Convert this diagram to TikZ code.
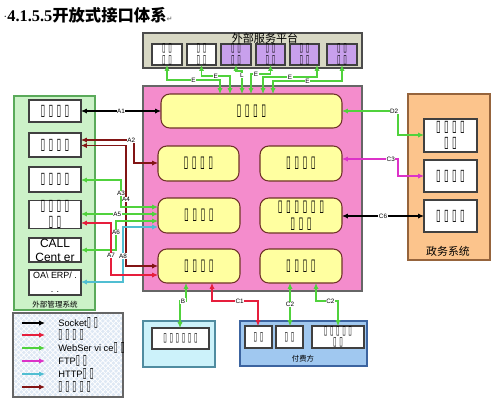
\documentclass[tikz,border=0pt]{standalone}
\usepackage{fontspec}
\usepackage{graphicx}
\setmainfont{Liberation Sans}
\newfontfamily\cjk{Noto Sans CJK SC}
\newfontfamily\tofu{DejaVu Sans}[WordSpace=2.2]
\newfontfamily\dvs{DejaVu Sans}
\newfontfamily\serifb{Liberation Serif}
\usetikzlibrary{arrows.meta,patterns}
\newcommand{\tf}{\scalebox{0.8}[1.5]{▯}}
\definecolor{pinkbg}{RGB}{244,140,204}
\definecolor{yel}{RGB}{255,255,160}
\definecolor{yelbd}{RGB}{110,50,40}
\definecolor{grnbg}{RGB}{204,242,200}
\definecolor{grnbd}{RGB}{90,170,90}
\definecolor{orgbg}{RGB}{252,196,140}
\definecolor{orgbd}{RGB}{150,100,60}
\definecolor{platbg}{RGB}{216,216,196}
\definecolor{purp}{RGB}{200,160,236}
\definecolor{cybg}{RGB}{204,242,250}
\definecolor{cybd}{RGB}{80,140,160}
\definecolor{blbg}{RGB}{160,200,240}
\definecolor{blbd}{RGB}{60,100,160}
\definecolor{lgbg}{RGB}{222,232,244}
\definecolor{cred}{RGB}{230,30,60}
\definecolor{cgrn}{RGB}{80,210,60}
\definecolor{cmag}{RGB}{220,50,200}
\definecolor{ccyn}{RGB}{80,190,210}
\definecolor{cdrd}{RGB}{130,20,20}
\newcommand{\bx}[7]{\node[#6, minimum width={(#4-#2)*0.02cm}, minimum height={(#5-#3)*0.02cm}] (#1) at ({(#2+#4)/2},{(#3+#5)/2}) {#7};}
\tikzset{
  base/.style={inner sep=0pt, outer sep=0pt, line width=0.6pt},
  wb/.style={base, draw=black!75, fill=white, align=center, font=\tofu\fontsize{6}{9.5}\selectfont},
  wbs/.style={wb, font=\tofu\fontsize{4.6}{6.5}\selectfont},
  pb/.style={wbs, fill=purp},
  yb/.style={base, draw=yelbd, fill=yel, rounded corners=5pt, align=center, font=\tofu\fontsize{6.2}{9.5}\selectfont},
  con/.style={line width=0.6pt, {Latex[length=3.4pt,width=3pt]}-{Latex[length=3.4pt,width=3pt]}},
  legar/.style={line width=0.6pt, -{Latex[length=3.4pt,width=3pt]}},
  lbl/.style={fill=white, inner sep=0.3pt, font=\fontsize{3.6}{4}\selectfont},
  legt/.style={anchor=west, inner sep=0pt, font=\fontsize{5.3}{6}\selectfont},
}
\begin{document}
\begin{tikzpicture}[x=0.02cm,y=-0.02cm]
\useasboundingbox (0,0) rectangle (500,400);
\fill[white] (0,0) rectangle (500,400);
% title
\node[anchor=west, inner sep=0pt] (title) at (3,15) {\serifb\bfseries\fontsize{9.3}{11}\selectfont \raisebox{1pt}{\fontsize{6}{6}\selectfont$\cdot$}4.1.5.5{\cjk\bfseries 开放式接口体系}{\dvs\fontsize{4}{4}\selectfont\color{black!50}↵}};
% platform
\bx{plat}{143}{33}{362}{68}{base, draw=black!70, fill=platbg}{}
\node[font=\cjk\fontsize{6.3}{7}\selectfont, inner sep=0pt] (platt) at (265,38) {外部服务平台};
\bx{p1}{152}{44}{182}{65}{wbs}{\tf\ \tf\\\tf\ \tf}
\bx{p2}{187}{44}{216}{65}{wbs}{\tf\ \tf\\\tf\ \tf}
\bx{p3}{221}{44}{251}{65}{pb}{\tf\ \tf\\\tf\ \tf}
\bx{p4}{256}{44}{285}{65}{pb}{\tf\ \tf\\\tf\ \tf}
\bx{p5}{290}{44}{319}{65}{pb}{\tf\ \tf\\\tf\ \tf}
\bx{p6}{327}{44}{357}{65}{pb}{\tf\ \tf\\\tf\ \tf}
% main pink
\bx{main}{143}{86}{362}{291}{base, draw=black!60, fill=pinkbg}{}
\bx{Yt}{161}{94}{342}{128}{yb}{\tf\ \tf\ \tf\ \tf}
\bx{Y2l}{158}{146}{239}{181}{yb}{\tf\ \tf\ \tf\ \tf}
\bx{Y2r}{260}{146}{342}{181}{yb}{\tf\ \tf\ \tf\ \tf}
\bx{Y3l}{158}{198}{240}{233}{yb}{\tf\ \tf\ \tf\ \tf}
\bx{Y3r}{260}{198}{342}{233}{yb}{\tf\ \tf\ \tf\ \tf\ \tf\ \tf\\\tf\ \tf\ \tf}
\bx{Y4l}{158}{249}{240}{283}{yb}{\tf\ \tf\ \tf\ \tf}
\bx{Y4r}{260}{249}{342}{283}{yb}{\tf\ \tf\ \tf\ \tf}
% left green
\bx{G}{14}{96}{95}{310}{base, draw=grnbd, fill=grnbg}{}
\bx{L1}{29}{100}{81}{122}{wb}{\tf\ \tf\ \tf\ \tf}
\bx{L2}{29}{133}{81}{157}{wb}{\tf\ \tf\ \tf\ \tf}
\bx{L3}{29}{167}{81}{192}{wb}{\tf\ \tf\ \tf\ \tf}
\bx{L4}{29}{202}{81}{227}{wb}{\tf\ \tf\ \tf\ \tf\\\tf\ \tf}
\bx{L5}{29}{238}{81}{262}{wb, font=\fontsize{6.8}{8}\selectfont}{CALL\\Cent er}
\bx{L6}{29}{270}{81}{295}{wb, font=\fontsize{5.1}{8}\selectfont}{OA\textbackslash{} ERP/ .\\. .}
\node[font=\cjk\fontsize{4.3}{5}\selectfont, inner sep=0pt] (Gt) at (55,304.5) {外部管理系统};
% legend
\bx{LG}{13}{313}{123}{397}{base, draw=black!60, fill=lgbg}{}
\fill[pattern=crosshatch, pattern color=white] (LG.north west) rectangle (LG.south east);
\draw[line width=0.6pt, draw=black!60] (LG.north west) rectangle (LG.south east);
\coordinate (la1) at (22,323); \coordinate (lb1) at (45,323);
\coordinate (la2) at (22,335); \coordinate (lb2) at (45,335);
\coordinate (la3) at (22,348); \coordinate (lb3) at (45,348);
\coordinate (la4) at (22,361); \coordinate (lb4) at (45,361);
\coordinate (la5) at (22,374); \coordinate (lb5) at (45,374);
\coordinate (la6) at (22,387); \coordinate (lb6) at (45,387);
\draw[legar, black] (la1) -- (lb1);
\draw[legar, cred] (la2) -- (lb2);
\draw[legar, cgrn] (la3) -- (lb3);
\draw[legar, cmag] (la4) -- (lb4);
\draw[legar, ccyn] (la5) -- (lb5);
\draw[legar, cdrd] (la6) -- (lb6);
\node[legt] (lt1) at (58,323) {Socket{\tofu\tf\ \tf}};
\node[legt] (lt2) at (58,335) {\tofu\tf\ \tf\ \tf\ \tf};
\node[legt] (lt3) at (58,348) {WebSer vi ce{\tofu\tf\ \tf}};
\node[legt] (lt4) at (58,361) {FTP{\tofu\tf\ \tf}};
\node[legt] (lt5) at (58,374) {HTTP{\tofu\tf\ \tf}};
\node[legt] (lt6) at (58,387) {\tofu\tf\ \tf\ \tf\ \tf\ \tf};
% right orange
\bx{O}{408}{94}{490}{260}{base, draw=orgbd, fill=orgbg}{}
\bx{R1}{424}{119}{477}{152}{wb}{\tf\ \tf\ \tf\ \tf\\\tf\ \tf}
\bx{R2}{424}{160}{477}{192}{wb}{\tf\ \tf\ \tf\ \tf}
\bx{R3}{424}{200}{477}{232}{wb}{\tf\ \tf\ \tf\ \tf}
\node[font=\cjk\fontsize{6.2}{7}\selectfont, inner sep=0pt] (Ot) at (448,251) {政务系统};
% bottom boxes
\bx{BC}{143}{321}{215}{367}{base, draw=cybd, fill=cybg}{}
\bx{BI}{152}{328}{209}{349}{wbs}{\tf\ \tf\ \tf\ \tf\ \tf\ \tf}
\bx{PB}{240}{321}{367}{366}{base, draw=blbd, fill=blbg}{}
\bx{P1}{245}{326}{272}{348}{wbs}{\tf\ \tf}
\bx{P2}{276}{326}{303}{348}{wbs}{\tf\ \tf}
\bx{P3}{312}{326}{364}{348}{wbs}{\tf\ \tf\ \tf\ \tf\ \tf\\\tf\ \tf}
\node[font=\cjk\fontsize{4.2}{5}\selectfont, inner sep=0pt] (PBt) at (303,359) {付费方};
% top connectors
\draw[con, cgrn] (p1.south) -- (p1.south |- 0,80) -- node[lbl, text=black]{E} (220,80) -- (Yt.north -| 220,0);
\draw[con, cgrn] (p2.south) -- (p2.south |- 0,76) -- node[lbl, text=black]{E} (230,76) -- (Yt.north -| 230,0);
\draw[con, cgrn] (p3.south) -- (p3.south |- 0,71) -- (242,71) -- node[lbl, text=black, pos=0.2]{L} (Yt.north -| 242,0);
\draw[con, cgrn] (p4.south) -- (p4.south |- 0,74) -- node[lbl, text=black, pos=0.75]{E} (251,74) -- (Yt.north -| 251,0);
\draw[con, cgrn] (p5.south -| 317,0) -- (317,77) -- node[lbl, text=black]{E} (263,77) -- (Yt.north -| 263,0);
\draw[con, cgrn] (p6.south) -- (p6.south |- 0,81) -- node[lbl, text=black]{E} (273,81) -- (Yt.north -| 273,0);
% left connectors
\draw[con, black] (L1.east |- 0,111) -- node[lbl]{A1} (Yt.west |- 0,111);
\draw[con, cdrd] (L2.east |- 0,140) -- node[lbl, text=black, pos=0.95]{A2} (134,140) -- (134,163) -- (Y2l.west |- 0,163);
\draw[con, cdrd] (L2.east |- 0,145.5) -- (126,145.5) -- node[lbl, text=black, pos=0.45]{A4} (126,266) -- (Y4l.west |- 0,266);
\draw[con, cgrn] (L3.east |- 0,180) -- (121,180) -- node[lbl, text=black]{A3} (121,207) -- (Y3l.west |- 0,207);
\draw[con, cgrn] (L4.east |- 0,214) -- node[lbl, text=black, pos=0.47]{A5} (Y3l.west |- 0,214);
\draw[con, cgrn] (Y3l.west |- 0,221) -- (116,221) -- node[lbl, text=black, pos=0.4]{A6} (116,250) -- (L5.east |- 0,250);
\draw[con, ccyn] (Y3l.west |- 0,227) -- (123,227) -- node[lbl, text=black, pos=0.53]{A8} (123,282) -- (L6.east |- 0,282);
\draw[con, cred] (L4.east |- 0,223) -- (111,223) -- node[lbl, text=black, pos=0.63]{A7} (111,275) -- (Y4l.west |- 0,275);
% right connectors
\draw[con, cgrn] (Yt.east |- 0,111) -- node[lbl, text=black, pos=0.93]{D2} (398,111) -- (398,135) -- (R1.west |- 0,135);
\draw[con, cmag] (Y2r.east |- 0,159) -- node[lbl, text=black, pos=0.87]{C3} (398,159) -- (398,176) -- (R2.west |- 0,176);
\draw[con, black] (Y3r.east |- 0,216) -- node[lbl, pos=0.5]{C6} (R3.west |- 0,216);
% bottom connectors
\draw[con, cgrn] (Y4l.south -| 186,0) -- (186,301) -- node[lbl, text=black]{B} (180,301) -- (BI.north -| 180,0);
\draw[con, cred] (Y4l.south -| 212,0) -- (212,301) -- node[lbl, text=black, pos=0.6]{C1} (258,301) -- (P1.north -| 258,0);
\draw[con, cgrn] (Y4r.south -| 290,0) -- node[lbl, text=black, pos=0.5]{C2} (P2.north -| 290,0);
\draw[con, cgrn] (Y4r.south -| 316,0) -- (316,301) -- node[lbl, text=black, pos=0.65]{C2} (338,301) -- (P3.north -| 338,0);
\end{tikzpicture}
\end{document}
